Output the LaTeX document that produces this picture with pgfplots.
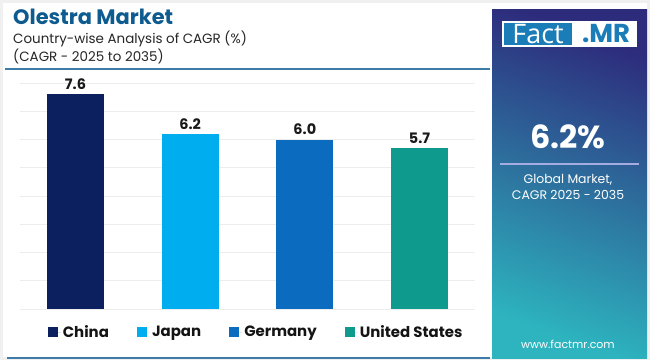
\documentclass[border=0pt]{standalone}
\usepackage{pgfplots}
\pgfplotsset{compat=1.18}
\usepackage{fontspec}
\setmainfont{Poppins}
\newfontfamily\logofont{Open Sans}
\definecolor{titleblue}{HTML}{0D5B8F}
\definecolor{cChina}{HTML}{0C1F5E}
\definecolor{cJapan}{HTML}{00AEEF}
\definecolor{cGermany}{HTML}{0B6CBF}
\definecolor{cUS}{HTML}{0E9B8E}
\definecolor{ptop}{HTML}{2D2B7C}
\definecolor{pbot}{HTML}{2DB4BF}
\definecolor{logoblue}{HTML}{1B7DB8}
\definecolor{sepline}{HTML}{3F7BA8}
\begin{document}
\begin{tikzpicture}[x=1bp,y=1bp]
\fill[white] (0,0) rectangle (650,360);
\draw[gray!12, line width=3bp] (1.5,1.5) rectangle (648.5,358.5);
% title
\node[anchor=base west, inner sep=0, text=titleblue, font=\fontsize{21}{24}\selectfont\bfseries] at (13,336) {Olestra Market};
\node[anchor=base west, inner sep=0, text=black!85, font=\fontsize{13.5}{16}\selectfont] at (13,317) {Country-wise Analysis of CAGR (\%)};
\node[anchor=base west, inner sep=0, text=black!85, font=\fontsize{13.5}{16}\selectfont] at (13,299) {(CAGR - 2025 to 2035)};
\draw[sepline, line width=1.2bp] (5,291) -- (490,291);
\draw[sepline, line width=2bp] (7,2) -- (490,2);
% panel
\shade[top color=ptop, bottom color=pbot, shading angle=-20] (492,2) rectangle (647,350);
\fill[white] (502,313) rectangle (637,339);
\fill[logoblue] (504,315) rectangle (572,337);
\node[text=white, font=\logofont\fontsize{27}{30}\selectfont, inner sep=0] at (538,326) {Fact};
\node[text=logoblue, font=\fontsize{26}{30}\selectfont\bfseries, inner sep=0] at (606,326) {.MR};
\node[text=white, font=\fontsize{32}{36}\selectfont\bfseries, inner sep=0] at (568,223) {6.2\%};
\draw[color={rgb,255:red,165;green,172;blue,225}, line width=1.5bp] (500,196) -- (639,196);
\node[text=white, font=\fontsize{12.5}{15}\selectfont, inner sep=0] at (568,180) {Global Market,};
\node[text=white, font=\fontsize{12.5}{15}\selectfont, inner sep=0] at (568,165) {CAGR 2025 - 2035};
\node[text=white, font=\fontsize{11}{13}\selectfont, inner sep=0] at (568,16) {www.factmr.com};
% chart
\begin{axis}[
  at={(20bp,51bp)}, anchor=south west,
  scale only axis, width=455bp, height=226bp,
  xmin=-0.484, xmax=3.484, ymin=0, ymax=8,
  axis line style={draw=none},
  major tick style={draw=none},
  xtick=\empty, ytick={0,1,...,8}, yticklabels={},
  ymajorgrids, grid style={color=black!7, line width=0.8bp},
  ybar, bar width=57bp, bar shift=0pt,
  nodes near coords={\pgfmathprintnumber[fixed,fixed zerofill,precision=1,assume math mode=true]{\pgfplotspointmeta}},
  every node near coord/.append style={font=\fontsize{14.5}{16}\selectfont\bfseries, text=black!90, yshift=1bp},
  legend columns=4,
  legend style={at={(0.519,-0.102)}, anchor=center, draw=none, fill=none,
    font=\fontsize{15}{17}\selectfont\bfseries, text=black!92,
    nodes={inner sep=1.8bp},
    /tikz/every even column/.append style={column sep=26.5bp}},
  legend image code/.code={\fill[#1] (0bp,-4.7bp) rectangle (9.5bp,4.7bp); \path (0bp,0bp) -- (13bp,0bp);},
]
\addplot[fill=cChina, draw=none] coordinates {(0,7.6)};
\addplot[fill=cJapan, draw=none] coordinates {(1,6.2)};
\addplot[fill=cGermany, draw=none] coordinates {(2,6.0)};
\addplot[fill=cUS, draw=none] coordinates {(3,5.7)};
\legend{China, Japan, Germany, United States}
\end{axis}
\pgfresetboundingbox
\path[use as bounding box] (0,0) rectangle (650,360);
\end{tikzpicture}
\end{document}
